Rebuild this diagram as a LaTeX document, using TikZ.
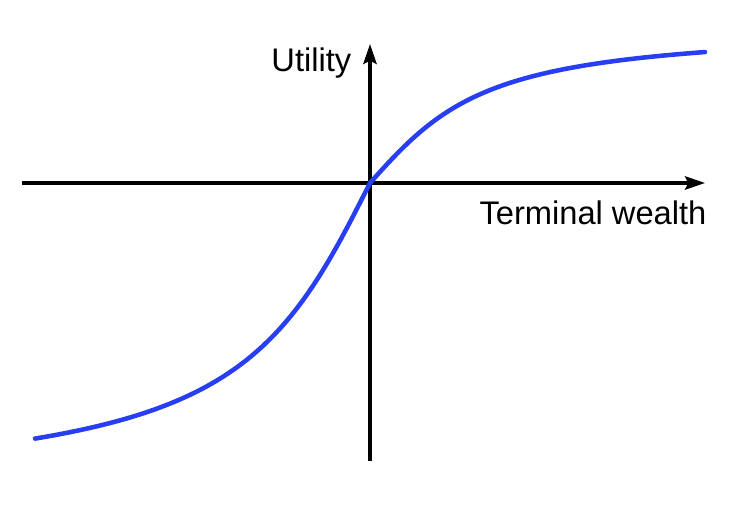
\documentclass[tikz,border=0pt]{standalone}
\usepackage{fontspec}
\setmainfont{Liberation Sans}
\usepackage{xcolor}
\usetikzlibrary{arrows.meta}

\definecolor{utilblue}{RGB}{40,62,242}

\begin{document}
\begin{tikzpicture}[x=0.75pt, y=0.75pt]
%    \draw [help lines, opacity=0.5] (0,0) grid[step=50] (747,510);
    \useasboundingbox (0,0) rectangle (747,510);

    %% axes
    \coordinate (o) at (370,327);
    \coordinate (xl) at (22,327);
    \coordinate (xr) at (705,327);
    \coordinate (yb) at (370,49);
    \coordinate (yt) at (370,466);

    \draw [line width=2.5pt, -{Stealth[length=15pt, width=10pt, inset=2.5pt]}] (xl) -- (xr);
    \draw [line width=2.5pt, -{Stealth[length=15pt, width=10pt, inset=2.5pt]}] (yb) -- (yt);

    \node (ulabel) [font=\fontsize{24.5}{29}\selectfont, anchor=east] at (356,447) {Utility};
    \node (wlabel) [font=\fontsize{24.5}{29}\selectfont] at (593,297) {Terminal wealth};

    %% the utility curve, convex below and concave above
    \draw [utilblue, line width=3.4pt, line cap=round]
        plot [domain=-335:0, samples=60] ({370+\x}, {327+200*rad(atan(\x/101))})
        -- plot [domain=0:335, samples=60] ({370+\x}, {327+100*rad(atan(\x/89.6))});

\end{tikzpicture}
\end{document}
